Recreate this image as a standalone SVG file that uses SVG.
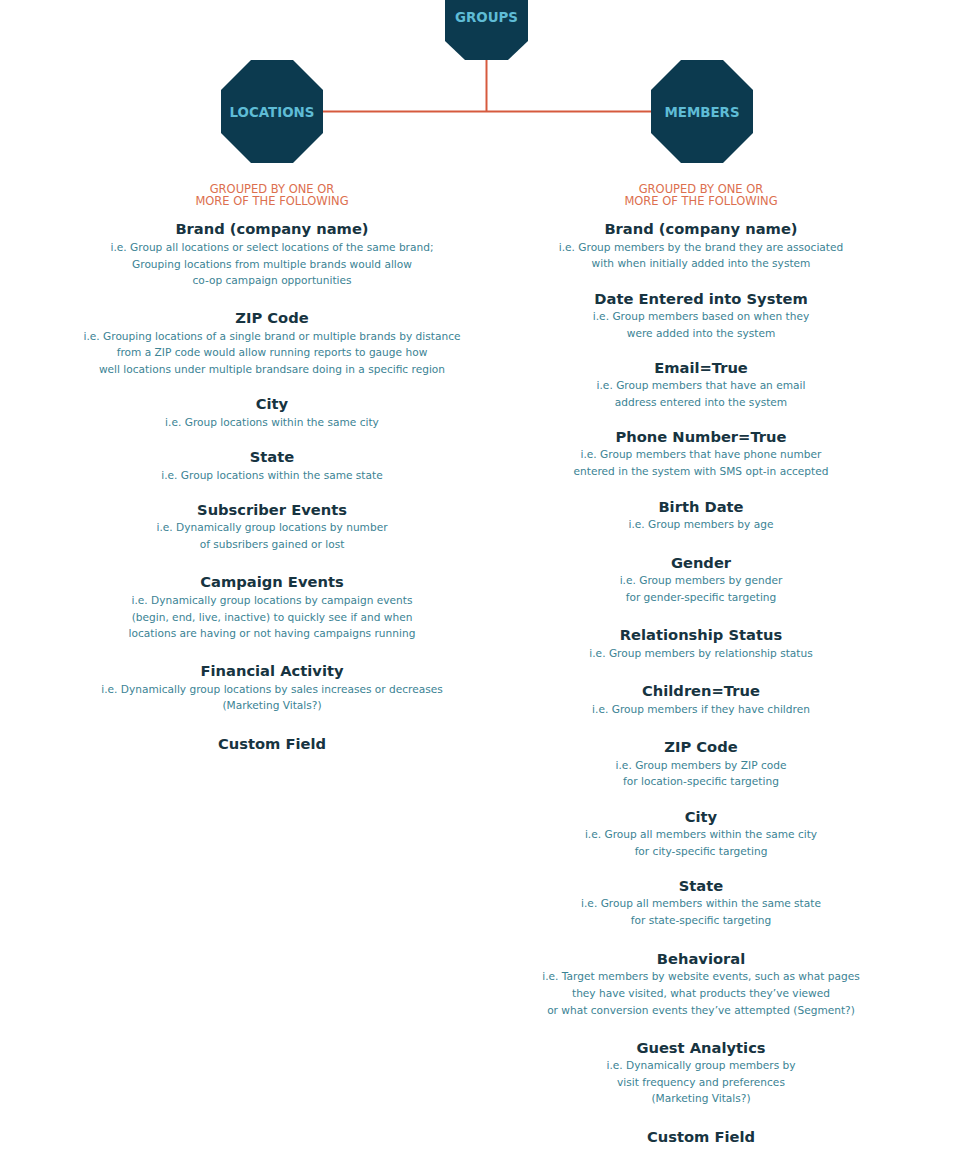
<svg xmlns="http://www.w3.org/2000/svg" width="971" height="1158" viewBox="0 0 971 1158">
<style>
.oct{fill:#0c3a4f}
.lbl{font-family:"DejaVu Sans",sans-serif;font-weight:bold;font-size:13.4px;fill:#5fbcd6;text-anchor:middle}
.conn{stroke:#d65a3e;stroke-width:2;fill:none}
.sub{font-family:"DejaVu Sans",sans-serif;font-size:11.5px;fill:#dc6f4e;text-anchor:middle}
.h{font-family:"DejaVu Sans",sans-serif;font-weight:bold;font-size:14.7px;fill:#173441;text-anchor:middle}
.d{font-family:"DejaVu Sans",sans-serif;font-size:10.6px;fill:#3b8394;text-anchor:middle}
</style>
<rect width="971" height="1158" fill="#ffffff"/>
<g id="connectors">
<line class="conn" x1="486.5" y1="59" x2="486.5" y2="111.5"/>
<line class="conn" x1="323" y1="111.5" x2="651" y2="111.5"/>
</g>
<g id="groups">
<polygon class="oct" points="445,0 528,0 528,41 508,60 465,60 445,41"/>
<text class="lbl" x="486.5" y="22">GROUPS</text>
</g>
<g id="locations">
<polygon class="oct" points="251,60 293,60 323,90 323,133 293,163 251,163 221,133 221,90"/>
<text class="lbl" x="272" y="117">LOCATIONS</text>
</g>
<g id="members">
<polygon class="oct" points="681,60 723,60 753,90 753,133 723,163 681,163 651,133 651,90"/>
<text class="lbl" x="702" y="117">MEMBERS</text>
</g>
<g id="locations-list">
<text class="sub" x="272" y="193">GROUPED BY ONE OR</text>
<text class="sub" x="272" y="205">MORE OF THE FOLLOWING</text>
<text class="h" x="272" y="234">Brand (company name)</text>
<text class="d" x="272" y="251">i.e. Group all locations or select locations of the same brand;</text>
<text class="d" x="272" y="268">Grouping locations from multiple brands would allow</text>
<text class="d" x="272" y="284">co-op campaign opportunities</text>
<text class="h" x="272" y="323">ZIP Code</text>
<text class="d" x="272" y="340">i.e. Grouping locations of a single brand or multiple brands by distance</text>
<text class="d" x="272" y="356">from a ZIP code would allow running reports to gauge how</text>
<text class="d" x="272" y="373">well locations under multiple brandsare doing in a specific region</text>
<text class="h" x="272" y="409">City</text>
<text class="d" x="272" y="426">i.e. Group locations within the same city</text>
<text class="h" x="272" y="462">State</text>
<text class="d" x="272" y="479">i.e. Group locations within the same state</text>
<text class="h" x="272" y="515">Subscriber Events</text>
<text class="d" x="272" y="531">i.e. Dynamically group locations by number</text>
<text class="d" x="272" y="548">of subsribers gained or lost</text>
<text class="h" x="272" y="587">Campaign Events</text>
<text class="d" x="272" y="604">i.e. Dynamically group locations by campaign events</text>
<text class="d" x="272" y="621">(begin, end, live, inactive) to quickly see if and when</text>
<text class="d" x="272" y="637">locations are having or not having campaigns running</text>
<text class="h" x="272" y="676">Financial Activity</text>
<text class="d" x="272" y="693">i.e. Dynamically group locations by sales increases or decreases</text>
<text class="d" x="272" y="709">(Marketing Vitals?)</text>
<text class="h" x="272" y="749">Custom Field</text>
</g>
<g id="members-list">
<text class="sub" x="701" y="193">GROUPED BY ONE OR</text>
<text class="sub" x="701" y="205">MORE OF THE FOLLOWING</text>
<text class="h" x="701" y="234">Brand (company name)</text>
<text class="d" x="701" y="251">i.e. Group members by the brand they are associated</text>
<text class="d" x="701" y="267">with when initially added into the system</text>
<text class="h" x="701" y="304">Date Entered into System</text>
<text class="d" x="701" y="320">i.e. Group members based on when they</text>
<text class="d" x="701" y="337">were added into the system</text>
<text class="h" x="701" y="373">Email=True</text>
<text class="d" x="701" y="389">i.e. Group members that have an email</text>
<text class="d" x="701" y="406">address entered into the system</text>
<text class="h" x="701" y="442">Phone Number=True</text>
<text class="d" x="701" y="458">i.e. Group members that have phone number</text>
<text class="d" x="701" y="475">entered in the system with SMS opt-in accepted</text>
<text class="h" x="701" y="512">Birth Date</text>
<text class="d" x="701" y="528">i.e. Group members by age</text>
<text class="h" x="701" y="568">Gender</text>
<text class="d" x="701" y="584">i.e. Group members by gender</text>
<text class="d" x="701" y="601">for gender-specific targeting</text>
<text class="h" x="701" y="640">Relationship Status</text>
<text class="d" x="701" y="657">i.e. Group members by relationship status</text>
<text class="h" x="701" y="696">Children=True</text>
<text class="d" x="701" y="713">i.e. Group members if they have children</text>
<text class="h" x="701" y="752">ZIP Code</text>
<text class="d" x="701" y="769">i.e. Group members by ZIP code</text>
<text class="d" x="701" y="785">for location-specific targeting</text>
<text class="h" x="701" y="822">City</text>
<text class="d" x="701" y="838">i.e. Group all members within the same city</text>
<text class="d" x="701" y="855">for city-specific targeting</text>
<text class="h" x="701" y="891">State</text>
<text class="d" x="701" y="907">i.e. Group all members within the same state</text>
<text class="d" x="701" y="924">for state-specific targeting</text>
<text class="h" x="701" y="964">Behavioral</text>
<text class="d" x="701" y="980">i.e. Target members by website events, such as what pages</text>
<text class="d" x="701" y="997">they have visited, what products they’ve viewed</text>
<text class="d" x="701" y="1014">or what conversion events they’ve attempted (Segment?)</text>
<text class="h" x="701" y="1053">Guest Analytics</text>
<text class="d" x="701" y="1069">i.e. Dynamically group members by</text>
<text class="d" x="701" y="1086">visit frequency and preferences</text>
<text class="d" x="701" y="1102">(Marketing Vitals?)</text>
<text class="h" x="701" y="1142">Custom Field</text>
</g>
</svg>
